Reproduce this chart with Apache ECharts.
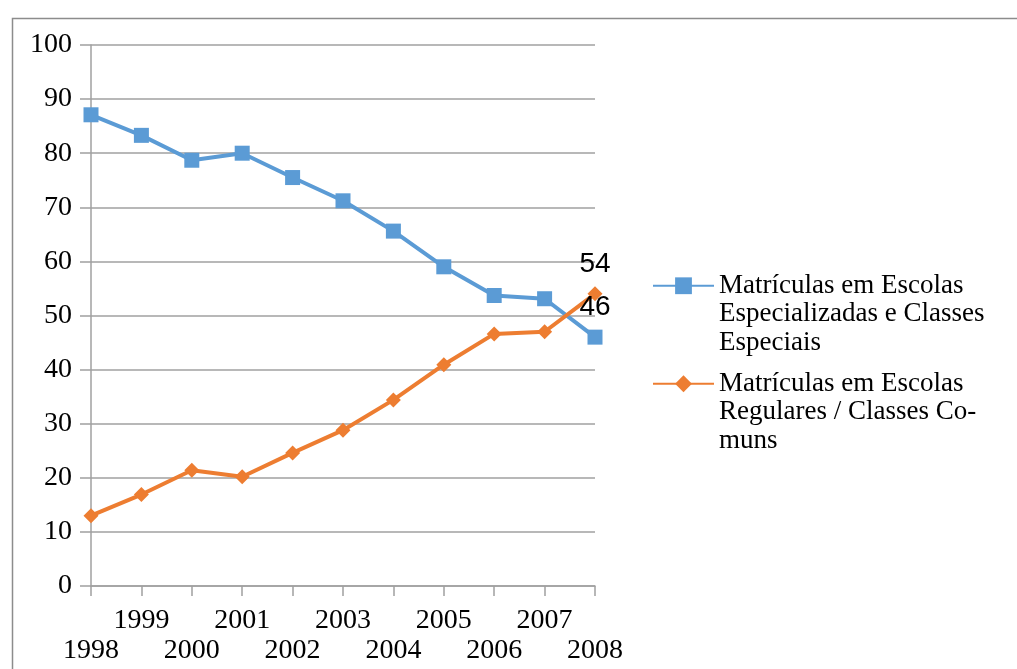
<!DOCTYPE html>
<html>
<head>
<meta charset="utf-8">
<script src="https://cdn.jsdelivr.net/npm/echarts@6/dist/echarts.min.js"></script>
<style>
html,body{margin:0;padding:0;background:#fff;}
#c{width:1017px;height:669px;}
</style>
</head>
<body>
<div id="c"></div>
<script>
const years = ['1998','1999','2000','2001','2002','2003','2004','2005','2006','2007','2008'];
const especiais = [87.1, 83.3, 78.7, 80.0, 75.5, 71.2, 65.6, 59.0, 53.7, 53.1, 46];
const regulares = [13.0, 16.9, 21.4, 20.2, 24.6, 28.8, 34.4, 40.9, 46.6, 47.0, 54];
const nameA = 'Matrículas em Escolas Especializadas e Classes Especiais';
const nameB = 'Matrículas em Escolas Regulares / Classes Comuns';
const legendA = 'Matrículas em Escolas\nEspecializadas e Classes\nEspeciais';
const legendB = 'Matrículas em Escolas\nRegulares / Classes Co-\nmuns';

const serif = '"Liberation Serif", "DejaVu Serif", serif';
const sans = '"Liberation Sans", "DejaVu Sans", sans-serif';

function withLastLabel(arr) {
  return arr.map((v, i) => i === arr.length - 1
    ? { value: v, label: { show: true, position: 'top', distance: 8, fontFamily: sans, fontSize: 28, color: '#000', formatter: p => Math.round(p.value) } }
    : v);
}

const chart = echarts.init(document.getElementById('c'), null, { renderer: 'canvas' });
const legendText = { fontFamily: serif, fontSize: 27, color: '#000', lineHeight: 28.5 };
chart.setOption({
  animation: false,
  backgroundColor: '#fff',
  graphic: [{
    type: 'rect', left: 10, top: 16, shape: { width: 1100, height: 700 },
    style: { fill: null, stroke: '#8c8c8c', lineWidth: 1.5 }, silent: true, z: -1
  }],
  grid: { left: 91, right: 422, top: 45, bottom: 83 },
  legend: [
    {
      data: [nameA], left: 652, top: 214.5, padding: 0, itemWidth: 61, itemHeight: 21,
      formatter: () => '\n\n' + legendA, textStyle: legendText, selectedMode: false
    },
    {
      data: [nameB], left: 652, top: 312.5, padding: 0, itemWidth: 61, itemHeight: 21,
      formatter: () => '\n\n' + legendB, textStyle: legendText, selectedMode: false
    }
  ],
  xAxis: {
    type: 'category', data: years, boundaryGap: false,
    axisLine: { lineStyle: { color: '#a0a0a0', width: 1.5 } },
    axisTick: { show: true, length: 10, alignWithLabel: true, lineStyle: { color: '#a0a0a0', width: 1.5 } },
    axisLabel: {
      interval: 0, hideOverlap: false, margin: 20, color: '#000',
      fontFamily: serif, fontSize: 28, lineHeight: 30,
      formatter: (v, i) => (i % 2 === 0 ? '\n' + v : v)
    },
    splitLine: { show: false }
  },
  yAxis: {
    type: 'value', min: 0, max: 100, interval: 10,
    axisLine: { show: true, lineStyle: { color: '#a0a0a0', width: 1.5 } },
    axisTick: { show: true, length: 11, lineStyle: { color: '#a0a0a0', width: 1.5 } },
    axisLabel: { margin: 19, color: '#000', fontFamily: serif, fontSize: 28 },
    splitLine: { show: true, lineStyle: { color: '#a0a0a0', width: 1.5 } }
  },
  series: [
    {
      name: nameA, type: 'line', data: withLastLabel(especiais),
      symbol: 'rect', symbolSize: 15, color: '#5B9BD5',
      lineStyle: { width: 4, color: '#5B9BD5' }, itemStyle: { color: '#5B9BD5' }
    },
    {
      name: nameB, type: 'line', data: withLastLabel(regulares),
      symbol: 'diamond', symbolSize: 15, color: '#ED7D31',
      lineStyle: { width: 4, color: '#ED7D31' }, itemStyle: { color: '#ED7D31' }
    }
  ]
});
</script>
</body>
</html>
